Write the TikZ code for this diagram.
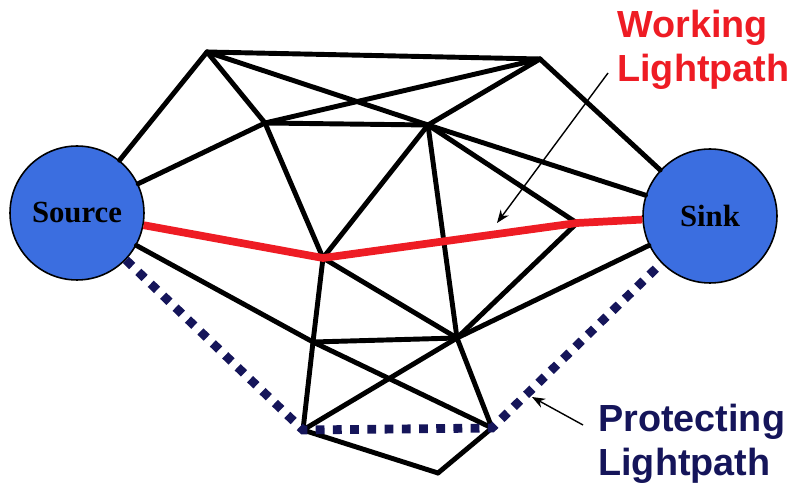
\documentclass[tikz,border=0pt]{standalone}
\usepackage{fontspec}
\newfontfamily\labelfont{Liberation Sans}
\newfontfamily\nodefont{Liberation Serif}
\usepackage{xcolor}
\definecolor{pathRed}{HTML}{EE1C24}
\definecolor{endBlue}{HTML}{3B6EE0}
\definecolor{protNavy}{HTML}{15155A}
\usepackage{tikz}
\usetikzlibrary{arrows.meta}

\begin{document}
\begin{tikzpicture}[
    x=0.02cm, y=-0.02cm,
    endpt/.style  ={circle, draw=black, line width=0.9pt, fill=endBlue,
                    minimum size=2.68cm, inner sep=0pt,
                    font=\nodefont\bfseries\fontsize{17.5}{20}\selectfont},
    link/.style   ={line width=2.8pt, line cap=round, line join=round},
    working/.style={line width=4.4pt, color=pathRed, line join=round},
    protect/.style={line width=5pt, color=protNavy, dash pattern=on 5pt off 4.8pt},
    tag/.style    ={font=\labelfont\bfseries\fontsize{21.5}{25.6}\selectfont,
                    align=left, inner sep=0pt},
    callout/.style={-{Stealth[length=2.6mm, width=2mm]}, line width=0.8pt}
]
\useasboundingbox (0,0) rectangle (795,489);

\node[endpt] (src) at (77,213)  {Source};
\node[endpt] (snk) at (710,216) {Sink};

\coordinate (tl)  at (207,52);
\coordinate (tr)  at (540,59);
\coordinate (ul)  at (265,123);
\coordinate (ur)  at (428,125);
\coordinate (wl)  at (323,258);
\coordinate (wr)  at (577,223);
\coordinate (ml)  at (313,342);
\coordinate (mr)  at (457,338);
\coordinate (bl)  at (303,430);
\coordinate (br)  at (492,428);
\coordinate (bot) at (438,473);

\draw[link] (src) -- (tl);
\draw[link] (src) -- (ul);
\draw[link] (src) -- (ml);
\draw[link] (ml) -- (br);
\draw[link] (tl) -- (tr);
\draw[link] (tl) -- (ul);
\draw[link] (tl) -- (ur);
\draw[link] (ul) -- (tr);
\draw[link] (ul) -- (ur);
\draw[link] (ul) -- (wl);
\draw[link] (ur) -- (tr);
\draw[link] (ur) -- (wl);
\draw[link] (ur) -- (wr);
\draw[link] (ur) -- (mr);
\draw[link] (ur) -- (snk);
\draw[link] (tr) -- (snk);
\draw[link] (wr) -- (mr);
\draw[link] (mr) -- (snk);
\draw[link] (wl) -- (ml);
\draw[link] (ml) -- (bl);
\draw[link] (wl) -- (mr);
\draw[link] (ml) -- (mr);
\draw[link] (mr) -- (bl);
\draw[link] (mr) -- (br);
\draw[link] (bl) -- (bot);
\draw[link] (bot) -- (br);

\draw[working] (src) -- (wl) -- (wr) -- (snk);
\draw[protect] (src) -- (bl) -- (br) -- (snk);

\node[tag, text=pathRed, anchor=base west]  (worklbl) at (617,82)  {Working\\Lightpath};
\node[tag, text=protNavy, anchor=base west] (protlbl) at (598,476) {Protecting\\Lightpath};

\coordinate (worktail) at (608,73);
\coordinate (workhead) at (497,223);
\coordinate (prottail) at (583,425);
\coordinate (prothead) at (532,397);
\draw[callout] (worktail) -- (workhead);
\draw[callout] (prottail) -- (prothead);
\end{tikzpicture}
\end{document}
